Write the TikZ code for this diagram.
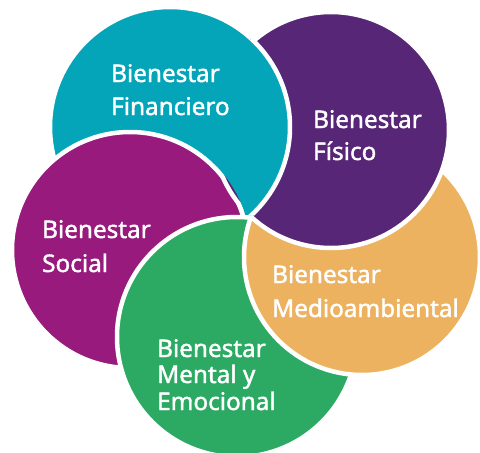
\documentclass[tikz,border=0pt]{standalone}
\usepackage{fontspec}
\setmainfont{Noto Sans}
\newfontfamily\lblfont{Noto Sans}[FakeBold=1.6]
\definecolor{cteal}{RGB}{4,164,185}
\definecolor{cpurple}{RGB}{87,38,118}
\definecolor{cmag}{RGB}{152,26,125}
\definecolor{cgreen}{RGB}{44,170,100}
\definecolor{corange}{RGB}{237,178,95}
\begin{document}
\begin{tikzpicture}[x=1pt,y=-1pt,
  disc/.style={draw=white,line width=4.5pt},
  lbl/.style={text=white,font=\lblfont\fontsize{24.3}{28}\selectfont,inner sep=0pt,anchor=base west}]
\useasboundingbox (0,0) rectangle (480,453);
\clip (0,0) rectangle (480,453);
\fill[white] (0,0) rectangle (480,453);
\coordinate (cT) at (170,127);
\coordinate (cP) at (331,130);
\coordinate (cM) at (130,250);
\coordinate (cG) at (237,337);
\coordinate (cO) at (362,257);
\filldraw[disc,fill=cteal] (cT) circle (120);
\filldraw[disc,fill=cmag] (cM) circle (118);
\filldraw[disc,fill=cgreen] (cG) circle (120);
\filldraw[disc,fill=corange] (cO) circle (118);
\filldraw[disc,fill=cpurple] (cP) circle (118);
\begin{scope}
  \clip (cP) circle (121);
  \clip (-1000,-1000) -- (-1000,2000) -- (2000,2000) -- (2000,-1000) -- cycle (cM) circle (120.5);
  \clip (-1000,-1000) -- (-1000,2000) -- (2000,2000) -- (2000,-1000) -- cycle (cG) circle (122.5);
  \filldraw[disc,fill=cteal] (cT) circle (120);
\end{scope}
\node[lbl] (fin1) at (111,82) {Bienestar};
\node[lbl] (fin2) at (111,115) {Financiero};
\node[lbl] (fis1) at (313,128) {Bienestar};
\node[lbl] (fis2) at (313,160) {Físico};
\node[lbl] (soc1) at (42,238) {Bienestar};
\node[lbl] (soc2) at (42,272) {Social};
\node[lbl] (med1) at (272,283) {Bienestar};
\node[lbl] (med2) at (272,317) {Medioambiental};
\node[lbl] (men1) at (157,357) {Bienestar};
\node[lbl] (men2) at (157,383) {Mental y};
\node[lbl] (men3) at (157,410) {Emocional};
\end{tikzpicture}
\end{document}
